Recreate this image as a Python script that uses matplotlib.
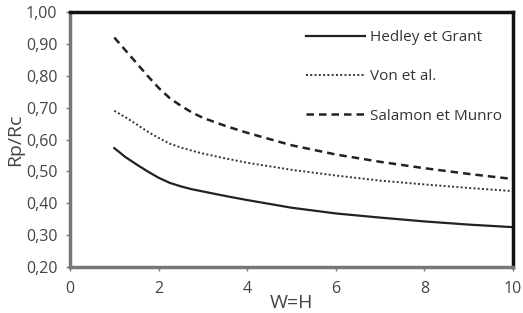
import matplotlib
matplotlib.use("Agg")
from matplotlib import pyplot as plt
from matplotlib.ticker import FuncFormatter

wh = [1, 1.25, 1.5, 1.75, 2, 2.25, 2.5, 2.75, 3, 3.5, 4, 5, 6, 7, 8, 9, 10]
hedley = [0.573, 0.545, 0.522, 0.500, 0.480, 0.464, 0.453, 0.444, 0.437, 0.423,
          0.410, 0.386, 0.368, 0.355, 0.343, 0.333, 0.325]
von = [0.690, 0.670, 0.648, 0.625, 0.605, 0.587, 0.575, 0.565, 0.556, 0.541,
       0.527, 0.505, 0.487, 0.471, 0.459, 0.448, 0.438]
salamon = [0.920, 0.880, 0.840, 0.800, 0.762, 0.730, 0.706, 0.685, 0.668, 0.643,
           0.621, 0.582, 0.553, 0.530, 0.510, 0.492, 0.476]

plt.rcParams['font.family'] = ['Open Sans', 'DejaVu Sans']

fig = plt.figure(figsize=(5.23, 3.13), dpi=100)
ax = fig.add_axes([70/523, 1 - 267/313, (513-70)/523, (267-12)/313])

ax.plot(wh, hedley, color='#222222', lw=1.6, ls='-', label='Hedley et Grant')
ax.plot(wh, von, color='#333333', lw=1.4, ls=(0, (1, 1.2)), label='Von et al.')
ax.plot(wh, salamon, color='#222222', lw=1.8, ls=(0, (3, 2)), label='Salamon et Munro')

ax.set_xlim(0, 10)
ax.set_ylim(0.2, 1.0)
ax.set_xticks([0, 2, 4, 6, 8, 10])
ax.set_yticks([0.2, 0.3, 0.4, 0.5, 0.6, 0.7, 0.8, 0.9, 1.0])
ax.yaxis.set_major_formatter(FuncFormatter(lambda v, p: f"{v:.2f}".replace('.', ',')))

for s in ['left', 'bottom']:
    ax.spines[s].set_color('#777777')
    ax.spines[s].set_linewidth(2.5)
for s in ['top', 'right']:
    ax.spines[s].set_color('#111111')
    ax.spines[s].set_linewidth(2.5)

ax.tick_params(axis='both', colors='#777777', labelcolor='#444444',
               labelsize=11.5, length=3, width=1)
ax.tick_params(axis='x', pad=7)
ax.tick_params(axis='y', pad=6)

ax.set_xlabel('W=H', fontsize=14, color='#444444', labelpad=-2)
ax.set_ylabel('Rp/Rc', fontsize=14, color='#444444', labelpad=1)

ax.legend(loc='upper right', bbox_to_anchor=(0.975, 0.93), frameon=False,
          fontsize=11, labelspacing=1.6, handlelength=3.85, handletextpad=0.35,
          borderaxespad=0, borderpad=0, labelcolor='#333333')

fig.savefig('out.png', dpi=100)
